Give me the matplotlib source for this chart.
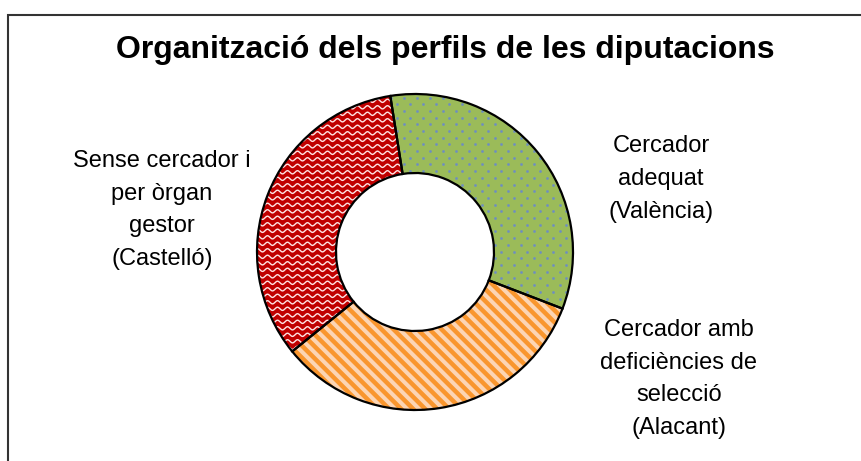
import numpy as np
import matplotlib.pyplot as plt
from matplotlib.patches import Wedge, Rectangle

plt.rcParams['font.family'] = ['Liberation Sans', 'DejaVu Sans']

title = "Organització dels perfils de les diputacions"
categories = ["Cercador\nadequat\n(València)",
              "Cercador amb\ndeficiències de\nselecció\n(Alacant)",
              "Sense cercador i\nper òrgan\ngestor\n(Castelló)"]
values = [1, 1, 1]
fill_colors = ["#9BBB59", "#FCD5B4", "#C00000"]
label_pos = [(661, 179), (679, 379), (162, 210)]  # label centres in pixels

W, H = 861, 461
fig = plt.figure(figsize=(W / 100, H / 100), dpi=100)

# pie centre (415, 252) px, outer radius 158 px
cx, cy, R = 415, 252, 158
half = 165
ax = fig.add_axes([(cx - half) / W, (H - cy - half) / H, 2 * half / W, 2 * half / H])
wedges, _ = ax.pie(values, colors=fill_colors, startangle=99, counterclock=False,
                   radius=1, wedgeprops=dict(width=0.5, edgecolor='none'))
lim = half / R
ax.set_xlim(-lim, lim)
ax.set_ylim(-lim, lim)
ax.set_aspect('equal')
ax.axis('off')

px = 1 / R  # one pixel in data units

# green: staggered blue-grey dots
g = wedges[0]
dots_x, dots_y = [], []
for i, yy in enumerate(np.arange(-1.1, 1.1, 6.7 * px)):
    off = 0 if i % 2 == 0 else 6.5 * px
    for xx in np.arange(-1.1, 1.1, 13 * px):
        dots_x.append(xx + off)
        dots_y.append(yy)
sc = ax.scatter(dots_x, dots_y, s=4, color="#6F8FBE", linewidths=0, zorder=2)
sc.set_clip_path(g)

# orange: diagonal stripes
o = wedges[1]
xs = np.array([-1.2, 1.2])
for c in np.arange(-2.6, 2.6, 12 * px):
    ln, = ax.plot(xs, -xs + c, color="#F9962E", lw=3.2, solid_capstyle='butt', zorder=2)
    ln.set_clip_path(o)

# red: white wavy lines
r = wedges[2]
wx = np.linspace(-1.2, 1.2, 1500)
for yy in np.arange(-1.1, 1.1, 6.5 * px):
    ln, = ax.plot(wx, yy + 1.6 * px * np.sin(2 * np.pi * wx / (10 * px)),
                  color="#FFE5E5", lw=1.0, zorder=2)
    ln.set_clip_path(r)

# black outlines on top
for w in wedges:
    ax.add_patch(Wedge(w.center, w.r, w.theta1, w.theta2, width=w.width,
                       fill=False, edgecolor='black', lw=1.6, zorder=3))

for text, (x, y) in zip(categories, label_pos):
    fig.text(x / W, 1 - y / H, text, ha='center', va='center',
             multialignment='center', fontsize=17, linespacing=1.62)

fig.text(445 / W, 1 - 50 / H, title, ha='center', va='center',
         fontsize=23, fontweight='bold')

# chart area border (top and left visible)
fig.add_artist(Rectangle((7.5 / W, -0.2), 1.5, 1.2 - 14.5 / H,
                         transform=fig.transFigure, fill=False,
                         edgecolor='#333333', lw=1.5))

fig.savefig("out.png", dpi=100)
